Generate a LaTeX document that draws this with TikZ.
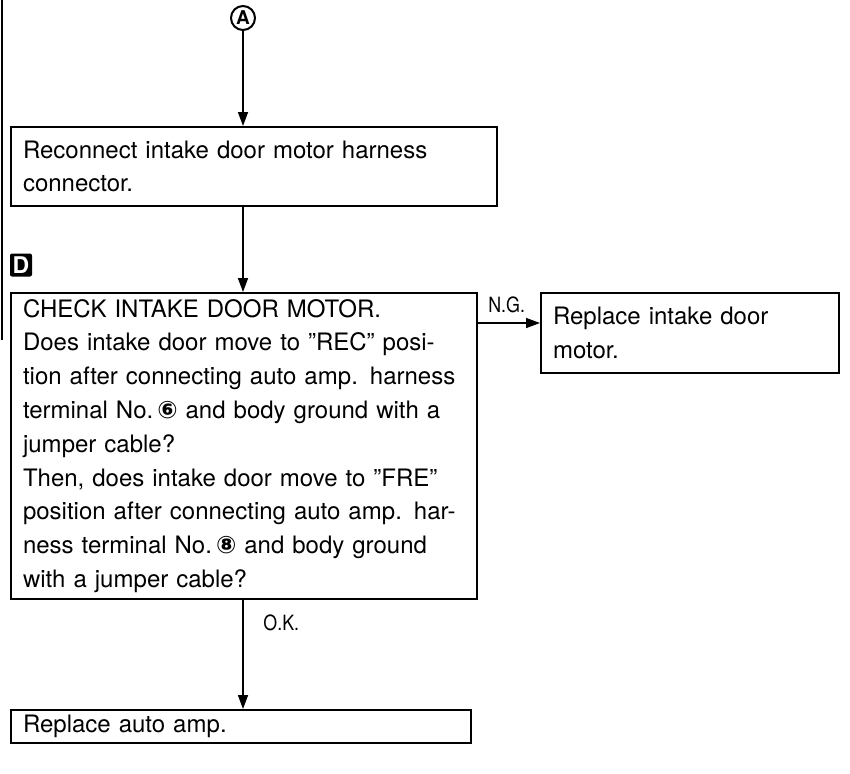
\documentclass[tikz,border=0pt]{standalone}
\usepackage{fontspec}
\setmainfont{TeX Gyre Heros}
\newfontfamily\symfont{DejaVu Sans}
\newfontfamily\tagfont[FakeStretch=0.85]{TeX Gyre Heros}
\usetikzlibrary{positioning,arrows.meta}

% circled terminal numbers
\newcommand{\term}[1]{{\symfont\bfseries #1}}

\begin{document}
\begin{tikzpicture}[
    font=\fontsize{12}{16.9}\selectfont,
    box/.style={draw, line width=1pt, align=left, anchor=north west,
                inner xsep=6pt, inner ysep=0pt},
    op/.style={-{Triangle[length=7pt,width=5pt]}, line width=0.8pt},
    tag/.style={font=\tagfont\fontsize{10.5}{12}\selectfont, inner sep=1pt},
  ]
  \useasboundingbox (0,0) rectangle (425pt,-386.5pt);

  % page rule on the left
  \coordinate (ruletop) at (1pt,0pt);
  \coordinate (rulebot) at (1pt,-170pt);
  \draw[line width=1pt] (ruletop) -- (rulebot);

  % connector from the previous sheet
  \node[draw, circle, line width=1pt, inner sep=0.5pt, minimum size=12pt,
        font=\bfseries\fontsize{9.5}{9.5}\selectfont] (A) at (121.5pt,-9pt) {A};

  % reconnect step
  \node[box, text width=231pt, minimum height=39.5pt] (reconn) at (5pt,-63pt)
    {Reconnect intake door motor harness\\connector.};

  % step D marker
  \node[fill=black, text=white, font=\bfseries\fontsize{11.5}{11.5}\selectfont,
        rounded corners=1pt, inner sep=0.5pt, minimum width=11pt,
        minimum height=11.5pt] (markD) at (10.5pt,-132.5pt) {D};

  % motor check
  \node[box, text width=221pt, minimum height=153pt,
        below=42.5pt of reconn.south west, anchor=north west] (check)
    {CHECK INTAKE DOOR MOTOR.\\
     Does intake door move to ''REC'' posi-\\
     tion after connecting auto amp. harness\\
     terminal No.\,\term{⑥} and body ground with a\\
     jumper cable?\\
     Then, does intake door move to ''FRE''\\
     position after connecting auto amp. har-\\
     ness terminal No.\,\term{⑧} and body ground\\
     with a jumper cable?};

  % N.G. branch
  \node[box, text width=137pt, minimum height=40pt,
        right=31pt of check.north east, anchor=north west] (motor)
    {Replace intake door\\motor.};

  % O.K. branch
  \node[box, text width=218pt, minimum height=16.5pt,
        below=54.5pt of check.south west, anchor=north west] (amp)
    {Replace auto amp.};

  \draw[op] (A) -- (A |- reconn.north);
  \draw[op] (A |- reconn.south) -- (A |- check.north);

  \coordinate[yshift=5pt] (motorin) at (motor.west);
  \draw[op] (check.east |- motorin) -- (motorin);
  \node[tag, anchor=south west, xshift=4pt, yshift=4pt] (ng)
    at (check.east |- motorin) {N.G.};

  \draw[op] (A |- check.south) -- (A |- amp.north);
  \node[tag, anchor=north west, xshift=9pt, yshift=-6pt] (ok)
    at (A |- check.south) {O.K.};
\end{tikzpicture}
\end{document}
